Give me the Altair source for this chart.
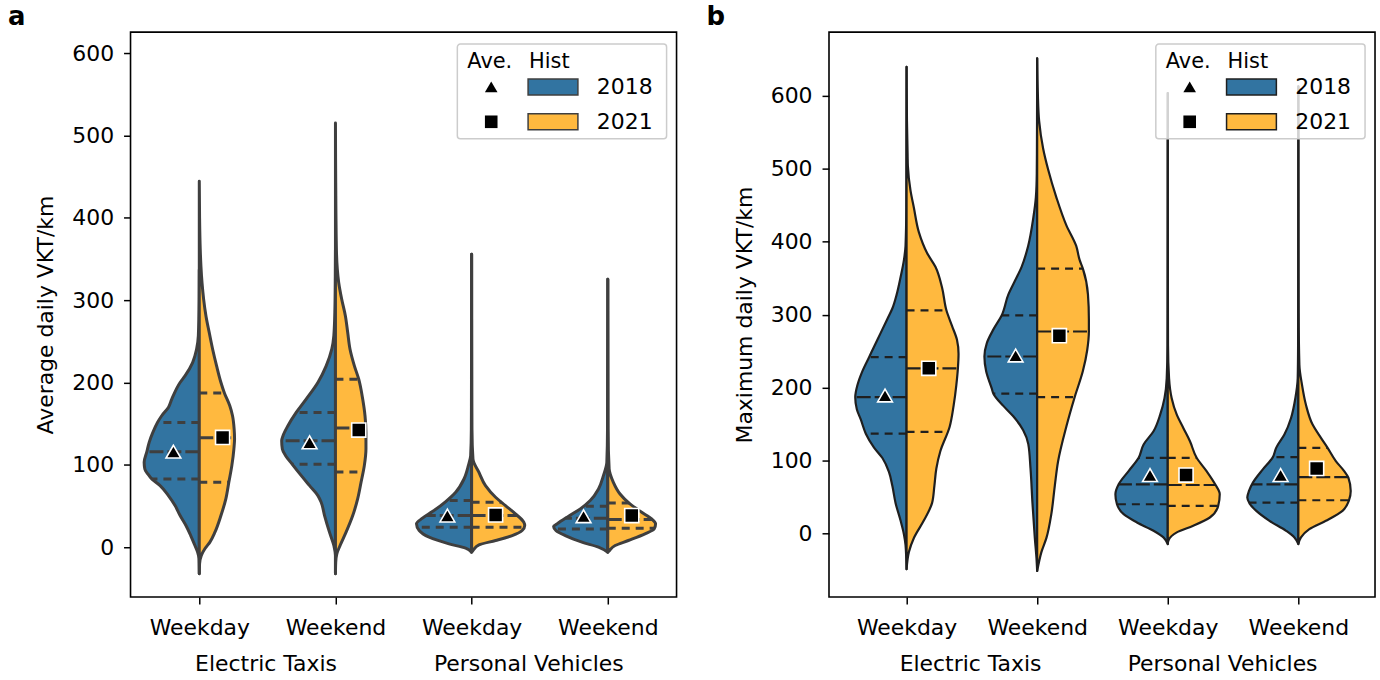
import altair as alt
import numpy as np
import pandas as pd

categories = ["Weekday", "Weekend", "Weekday", "Weekend"]
groups = ["Electric Taxis", "Personal Vehicles"]
group_pos = [0.49, 2.42]
years = ["2018", "2021"]

BLUE = "#3274a1"
ORANGE = "#ffb93f"

# ---------------- panel a : average daily VKT (density profiles: value, half-width) -------------
a_et_wd_18_v = [-32.3, -14.1, -6.1, 2.0, 14.1, 26.3, 38.4, 50.5, 62.6, 74.7, 82.8, 88.9, 94.9, 103.0, 116.0, 127.3, 139.4, 151.5, 159.6, 169.7, 179.8, 200.0, 208.0, 224.2, 240.4, 256.6, 301.0, 337.0]
a_et_wd_18_w = [0.0, 0.002, 0.012, 0.032, 0.063, 0.098, 0.141, 0.178, 0.227, 0.288, 0.349, 0.378, 0.400, 0.405, 0.385, 0.368, 0.341, 0.307, 0.276, 0.227, 0.202, 0.141, 0.105, 0.049, 0.020, 0.007, 0.001, 0.0]
a_et_wd_21_v = [-32.3, -20.2, -10.1, -2.0, 6.1, 18.2, 38.4, 58.6, 78.8, 99.0, 119.2, 131.3, 143.4, 159.6, 171.7, 187.0, 200.0, 220.2, 240.4, 260.6, 280.8, 301.0, 321.2, 341.4, 361.6, 402.0, 444.4]
a_et_wd_21_w = [0.0, 0.002, 0.015, 0.041, 0.078, 0.115, 0.159, 0.195, 0.217, 0.239, 0.254, 0.259, 0.256, 0.244, 0.224, 0.185, 0.159, 0.127, 0.098, 0.073, 0.049, 0.032, 0.020, 0.012, 0.007, 0.002, 0.0]
a_et_we_18_v = [-32.3, -10.1, 2.0, 18.2, 38.4, 54.5, 62.6, 74.7, 86.9, 100.6, 111.1, 119.2, 129.3, 135.4, 147.5, 163.6, 179.8, 200.0, 220.2, 240.4, 256.6, 289.0, 329.0, 361.6]
a_et_we_18_w = [0.0, 0.0, 0.012, 0.044, 0.080, 0.105, 0.129, 0.190, 0.251, 0.317, 0.366, 0.390, 0.395, 0.385, 0.349, 0.288, 0.215, 0.129, 0.068, 0.027, 0.012, 0.004, 0.001, 0.0]
a_et_we_21_v = [-32.3, -18.2, -8.1, 2.0, 18.2, 38.4, 58.6, 78.8, 99.0, 119.2, 139.4, 159.6, 179.8, 204.0, 220.2, 240.4, 260.6, 280.8, 301.0, 321.2, 361.6, 442.4, 515.0]
a_et_we_21_w = [0.0, 0.002, 0.010, 0.034, 0.078, 0.127, 0.163, 0.188, 0.212, 0.224, 0.224, 0.217, 0.200, 0.171, 0.139, 0.107, 0.090, 0.073, 0.046, 0.024, 0.007, 0.002, 0.0]
a_pv_wd_18_v = [-6.1, -1.2, 4.0, 12.1, 20.2, 28.3, 35.2, 43.2, 55.4, 66.7, 82.8, 99.0, 111.1, 143.4, 204.0, 355.6]
a_pv_wd_18_w = [0.0, 0.044, 0.166, 0.312, 0.385, 0.405, 0.361, 0.288, 0.190, 0.117, 0.056, 0.024, 0.007, 0.002, 0.001, 0.0]
a_pv_wd_21_v = [-6.1, -4.0, 2.8, 8.1, 14.1, 20.2, 26.3, 30.3, 40.4, 50.5, 60.6, 74.7, 90.9, 107.0, 143.4, 204.0, 355.6]
a_pv_wd_21_w = [0.0, 0.010, 0.054, 0.176, 0.298, 0.371, 0.390, 0.383, 0.322, 0.249, 0.176, 0.102, 0.054, 0.010, 0.002, 0.001, 0.0]
a_pv_we_18_v = [-6.1, 0.0, 6.1, 14.1, 20.2, 25.1, 28.3, 37.6, 46.5, 56.6, 70.7, 86.9, 103.0, 143.4, 325.3]
a_pv_we_18_w = [0.0, 0.068, 0.190, 0.312, 0.380, 0.398, 0.373, 0.288, 0.202, 0.129, 0.068, 0.032, 0.007, 0.002, 0.0]
a_pv_we_21_v = [-6.1, -5.3, 2.0, 8.1, 16.2, 22.2, 28.3, 34.3, 42.4, 52.5, 64.6, 78.8, 95.0, 143.4, 325.3]
a_pv_we_21_w = [0.0, 0.005, 0.054, 0.151, 0.273, 0.341, 0.351, 0.322, 0.249, 0.163, 0.090, 0.041, 0.010, 0.002, 0.0]

a_means_2018 = [116.0, 127.3, 38.4, 37.6]
a_means_2021 = [133.3, 142.2, 39.2, 38.4]
a_quart_2018 = [[82.8, 116.0, 151.5], [100.6, 129.3, 163.6], [24.2, 38.4, 56.6], [22.2, 35.2, 49.7]]
a_quart_2021 = [[78.8, 132.9, 187.1], [91.3, 144.6, 204.0], [24.2, 38.4, 54.5], [23.0, 33.5, 53.7]]

# ---------------- panel b : maximum daily VKT -------------
b_et_wd_18_v = [-49.1, -15.7, -1.4, 17.6, 41.5, 65.3, 84.4, 103.4, 117.7, 136.8, 155.9, 170.2, 186.8, 203.5, 222.6, 241.7, 256.0, 275.0, 294.1, 308.4, 327.5, 351.3, 375.1, 394.2, 446.6, 518.0, 639.7]
b_et_wd_18_w = [0.0, 0.008, 0.020, 0.046, 0.084, 0.109, 0.135, 0.185, 0.249, 0.312, 0.350, 0.381, 0.393, 0.376, 0.338, 0.287, 0.249, 0.198, 0.147, 0.109, 0.076, 0.046, 0.020, 0.008, 0.002, 0.001, 0.0]
b_et_wd_21_v = [-49.1, -25.3, -6.2, 17.6, 41.5, 65.3, 89.1, 113.0, 146.3, 174.9, 203.5, 226.4, 246.4, 265.5, 284.6, 306.0, 337.0, 365.6, 384.6, 413.2, 446.6, 470.4, 503.8, 518.1, 565.8, 639.7]
b_et_wd_21_w = [0.0, 0.018, 0.056, 0.132, 0.195, 0.213, 0.228, 0.259, 0.330, 0.360, 0.381, 0.393, 0.398, 0.386, 0.348, 0.305, 0.272, 0.221, 0.157, 0.094, 0.056, 0.030, 0.010, 0.008, 0.003, 0.0]
b_et_we_18_v = [-51.5, -34.8, -6.2, 41.5, 89.1, 122.5, 141.6, 160.6, 174.9, 191.6, 198.8, 222.6, 242.6, 260.7, 279.8, 298.9, 327.5, 346.5, 365.6, 394.2, 432.3, 460.9, 494.3, 565.8, 651.6]
b_et_we_18_w = [0.0, 0.005, 0.018, 0.036, 0.051, 0.068, 0.107, 0.183, 0.259, 0.335, 0.348, 0.391, 0.404, 0.386, 0.335, 0.272, 0.221, 0.170, 0.119, 0.069, 0.030, 0.010, 0.003, 0.001, 0.0]
b_et_we_21_v = [-51.5, -44.3, -25.3, -6.2, 27.2, 65.3, 98.7, 146.3, 186.8, 222.6, 251.2, 276.9, 294.1, 327.5, 363.2, 375.1, 394.2, 422.8, 460.9, 499.0, 527.6, 565.8, 603.9, 651.6]
b_et_we_21_w = [0.0, 0.008, 0.033, 0.071, 0.109, 0.135, 0.160, 0.223, 0.287, 0.350, 0.383, 0.396, 0.396, 0.389, 0.350, 0.325, 0.299, 0.223, 0.147, 0.084, 0.046, 0.015, 0.005, 0.0]
b_pv_wd_18_v = [-14.6, -5.5, 3.6, 15.0, 26.4, 40.0, 53.7, 67.3, 85.5, 103.7, 121.9, 140.1, 162.8, 185.5, 212.8, 258.3, 349.2, 604.0]
b_pv_wd_18_w = [0.0, 0.033, 0.109, 0.236, 0.338, 0.389, 0.401, 0.376, 0.300, 0.223, 0.185, 0.109, 0.058, 0.025, 0.008, 0.002, 0.001, 0.0]
b_pv_wd_21_v = [-14.6, -10.0, 1.4, 10.5, 21.8, 37.7, 53.7, 67.3, 85.5, 103.7, 126.4, 144.6, 162.8, 185.5, 212.8, 258.3, 349.2, 604.0]
b_pv_wd_21_w = [0.0, 0.005, 0.069, 0.195, 0.322, 0.386, 0.398, 0.363, 0.297, 0.221, 0.170, 0.119, 0.069, 0.030, 0.010, 0.002, 0.001, 0.0]
b_pv_we_18_v = [-14.6, -5.5, 3.6, 17.3, 30.9, 40.9, 49.1, 58.2, 69.6, 87.8, 104.6, 117.3, 135.5, 158.3, 185.5, 212.8, 258.3, 349.2, 613.0]
b_pv_we_18_w = [0.0, 0.030, 0.094, 0.221, 0.322, 0.373, 0.391, 0.378, 0.348, 0.272, 0.195, 0.170, 0.107, 0.056, 0.023, 0.005, 0.002, 0.001, 0.0]
b_pv_we_21_v = [-14.6, -5.5, 5.9, 17.3, 30.9, 45.5, 58.2, 76.4, 85.5, 99.1, 117.3, 131.0, 149.2, 176.4, 203.7, 231.0, 303.8, 394.7, 613.0]
b_pv_we_21_w = [0.0, 0.020, 0.084, 0.211, 0.338, 0.388, 0.401, 0.383, 0.351, 0.287, 0.224, 0.173, 0.109, 0.058, 0.028, 0.008, 0.002, 0.001, 0.0]

b_means_2018 = [189.2, 244.0, 80.0, 80.0]
b_means_2021 = [226.4, 271.2, 80.0, 89.1]
b_quart_2018 = [[136.8, 186.8, 241.7], [191.6, 242.6, 298.9], [40.0, 67.3, 103.7], [42.3, 67.3, 104.6]]
b_quart_2021 = [[139.2, 226.4, 306.0], [186.8, 276.9, 363.2], [37.7, 66.4, 103.7], [45.5, 77.3, 117.3]]

a_prof_2018 = [(a_et_wd_18_v, a_et_wd_18_w), (a_et_we_18_v, a_et_we_18_w), (a_pv_wd_18_v, a_pv_wd_18_w), (a_pv_we_18_v, a_pv_we_18_w)]
a_prof_2021 = [(a_et_wd_21_v, a_et_wd_21_w), (a_et_we_21_v, a_et_we_21_w), (a_pv_wd_21_v, a_pv_wd_21_w), (a_pv_we_21_v, a_pv_we_21_w)]
b_prof_2018 = [(b_et_wd_18_v, b_et_wd_18_w), (b_et_we_18_v, b_et_we_18_w), (b_pv_wd_18_v, b_pv_wd_18_w), (b_pv_we_18_v, b_pv_we_18_w)]
b_prof_2021 = [(b_et_wd_21_v, b_et_wd_21_w), (b_et_we_21_v, b_et_we_21_w), (b_pv_wd_21_v, b_pv_wd_21_w), (b_pv_we_21_v, b_pv_we_21_w)]

W, H = 548, 567
FONT = "DejaVu Sans"


def frames(p18, p21, q18, q21, m18, m21, off18, off21):
    vrows, qrows, mrows = [], [], []
    spec = [("2018", p18, q18, m18, off18, -1), ("2021", p21, q21, m21, off21, 1)]
    for year, profs, quarts, means, offs, side in spec:
        for ci, (vs, ws) in enumerate(profs):
            order = np.argsort(vs)
            va = np.asarray(vs, float)[order]
            wa = np.asarray(ws, float)[order]
            for v, w in zip(va, wa):
                vrows.append(dict(key=f"{ci}-{year}", year=year, v=v, x=ci + side * w, x2=ci))
            for k, q in enumerate(quarts[ci]):
                w = float(np.interp(q, va, wa))
                qrows.append(dict(year=year, v=q, x=ci, x2=ci + side * w,
                                  kind="median" if k == 1 else "quartile"))
            mrows.append(dict(year=year, v=means[ci], x=ci + side * offs[ci]))
    return pd.DataFrame(vrows), pd.DataFrame(qrows), pd.DataFrame(mrows)


def legend_layers(edge, edge_w):
    one = pd.DataFrame({"k": [0]})
    base = alt.Chart(one)
    layers = [
        base.mark_rect(fill="white", fillOpacity=0.8, stroke="#cccccc", strokeWidth=1.5,
                       cornerRadius=3).encode(
            x=alt.value(328), x2=alt.value(538), y=alt.value(12), y2=alt.value(107)),
        base.mark_text(text="Ave.", font=FONT, fontSize=21, align="left", baseline="middle",
                       color="black").encode(x=alt.value(338), y=alt.value(30)),
        base.mark_text(text="Hist", font=FONT, fontSize=21, align="left", baseline="middle",
                       color="black").encode(x=alt.value(400), y=alt.value(30)),
    ]
    rows = [(years[0], "triangle-up", BLUE, 55), (years[1], "square", ORANGE, 90)]
    for label, shape, col, yc in rows:
        layers.append(base.mark_point(shape=shape, filled=True, fill="black", size=160,
                                      opacity=1, strokeWidth=0).encode(
            x=alt.value(362), y=alt.value(yc)))
        layers.append(base.mark_rect(fill=col, stroke=edge, strokeWidth=edge_w).encode(
            x=alt.value(399), x2=alt.value(449), y=alt.value(yc - 8), y2=alt.value(yc + 8)))
        layers.append(base.mark_text(text=label, font=FONT, fontSize=22, align="left",
                                     baseline="middle", color="black").encode(
            x=alt.value(468), y=alt.value(yc)))
    return layers


def panel(letter, ytitle, p18, p21, q18, q21, m18, m21, off18, off21, ydom, xdom,
          edge, lw, inner_w, med_dash, q_dash, tri_size, sq_size):
    vdf, qdf, mdf = frames(p18, p21, q18, q21, m18, m21, off18, off21)
    xs = alt.Scale(domain=xdom, nice=False, zero=False)
    ys = alt.Scale(domain=ydom, nice=False, zero=False)
    label_expr = "[" + ",".join(f"'{c}'" for c in categories) + "][datum.value]"
    xaxis = alt.Axis(values=[0, 1, 2, 3], labelExpr=label_expr, title=None, labelPadding=14,
                     labelOverlap=False, labelFlush=False)
    yaxis = alt.Axis(values=list(range(0, 601, 100)), title=ytitle, titlePadding=14,
                     labelPadding=10)
    X = alt.X("x:Q", scale=xs, axis=xaxis)
    Y = alt.Y("v:Q", scale=ys, axis=yaxis)
    fill_scale = alt.Scale(domain=years, range=[BLUE, ORANGE])

    violins = alt.Chart(vdf).mark_area(
        orient="horizontal", interpolate="monotone", stroke=edge, strokeWidth=lw,
        strokeJoin="round", fillOpacity=1, opacity=1
    ).encode(
        y=Y, x=alt.X("x:Q", scale=xs, axis=xaxis, stack=None), x2="x2:Q",
        fill=alt.Fill("year:N", scale=fill_scale, legend=None),
        detail="key:N",
    )
    quarts = alt.Chart(qdf).mark_rule(color=edge, strokeWidth=inner_w).encode(
        y=Y, x=X, x2="x2:Q",
        strokeDash=alt.StrokeDash("kind:N", scale=alt.Scale(domain=["median", "quartile"],
                                                             range=[med_dash, q_dash]),
                                  legend=None),
    )
    means = alt.Chart(mdf).mark_point(filled=True, fill="black", stroke="white",
                                      strokeWidth=1.6, opacity=1).encode(
        y=Y, x=X,
        shape=alt.Shape("year:N", scale=alt.Scale(domain=years, range=["triangle-up", "square"]),
                        legend=None),
        size=alt.Size("year:N", scale=alt.Scale(domain=years, range=[tri_size, sq_size]),
                      legend=None),
    )
    gdf = pd.DataFrame({"x": group_pos, "label": groups})
    glabels = alt.Chart(gdf).mark_text(font=FONT, fontSize=22, color="black",
                                       baseline="middle", align="center").encode(
        x=X, y=alt.value(H + 67), text="label:N")

    layers = [violins, quarts, means] + legend_layers(edge, 1.5) + [glabels]
    return alt.layer(*layers).properties(
        width=W, height=H,
        title=alt.TitleParams(text=letter, anchor="start", frame="group", dx=-123, offset=-19,
                              fontSize=26, fontWeight="bold", font=FONT, color="black",
                              baseline="alphabetic"),
    )


pa = panel("a", "Average daily VKT/km", a_prof_2018, a_prof_2021, a_quart_2018, a_quart_2021,
           a_means_2018, a_means_2021, [0.19, 0.19, 0.178, 0.178], [0.171, 0.171, 0.176, 0.176],
           [-60.6, 625.5], [-0.505, 3.505], "#3f3f3f", 3.0, 3.0, [14, 4], [8, 6], 220, 200)
pb = panel("b", "Maximum daily VKT/km", b_prof_2018, b_prof_2021, b_quart_2018, b_quart_2021,
           b_means_2018, b_means_2021, [0.165, 0.165, 0.136, 0.136], [0.17, 0.17, 0.14, 0.14],
           [-87.3, 687.5], [-0.594, 3.587], "#1f1f1f", 2.2, 2.2, [7, 3], [2.5, 3], 380, 390)

chart = alt.hconcat(pa, pb, spacing=28).properties(
    padding={"left": 7, "top": 2, "right": 4, "bottom": 0}
).configure(font=FONT).configure_view(
    stroke="black", strokeWidth=1.6
).configure_axis(
    labelFont=FONT, titleFont=FONT, labelFontSize=22, titleFontSize=22, titleFontWeight="normal",
    labelColor="black", titleColor="black", tickColor="black", tickWidth=1.5, tickSize=7,
    domain=False, grid=False,
)

chart.save("out.html", embed_options={"renderer": "svg", "actions": False})
